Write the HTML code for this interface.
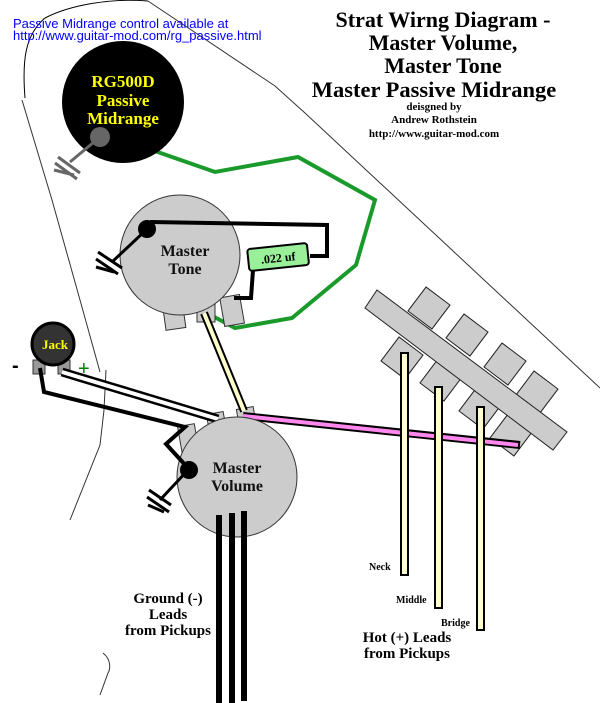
<!DOCTYPE html>
<html><head><meta charset="utf-8"><style>
html,body{margin:0;padding:0;background:#fff;}
svg{display:block;}
.s{font-family:"Liberation Serif",serif;font-weight:bold;}
</style></head><body>
<svg width="600" height="703" viewBox="0 0 600 703" xmlns="http://www.w3.org/2000/svg">
<path d="M148,1 L275,86 L305,113 L600,388" fill="none" stroke="#333" stroke-width="1"/>
<path d="M148,1 C110,-2 70,5 45,18 C25,35 22,60 25,98" fill="none" stroke="#000" stroke-width="1"/>
<path d="M22,100 L52,200 L80,300 L100,372" fill="none" stroke="#333" stroke-width="1"/>
<path d="M106,370 L104,410 L100,445 L70,520" fill="none" stroke="#333" stroke-width="1"/>
<path d="M103,653 C112,660 110,670 108,673 L100,695" fill="none" stroke="#333" stroke-width="1"/>
<text x="13" y="28" font-family="Liberation Sans,sans-serif" font-size="13" fill="#0000ff">Passive Midrange control available at</text>
<text x="13" y="40" font-family="Liberation Sans,sans-serif" font-size="13" fill="#0000ff">http://www.guitar-mod.com/rg_passive.html</text>
<g class="s" text-anchor="middle" fill="#000">
<text x="443" y="27" font-size="22">Strat Wirng Diagram -</text>
<text x="443" y="50" font-size="22">Master Volume,</text>
<text x="443" y="73" font-size="22">Master Tone</text>
<text x="434" y="97" font-size="22.5">Master Passive Midrange</text>
<text x="434" y="110" font-size="11">deisgned by</text>
<text x="434" y="123" font-size="11">Andrew Rothstein</text>
<text x="434" y="137" font-size="11">http://www.guitar-mod.com</text>
</g>
<polyline points="152,150 215,172 298,157 375,200 356,265 292,318 235,328 205,312" fill="none" stroke="#1a9a2a" stroke-width="4"/>
<circle cx="123" cy="102" r="61" fill="#000"/>
<g class="s" text-anchor="middle" fill="#ffff00" font-size="17">
<text x="123" y="87">RG500D</text>
<text x="123" y="106">Passive</text>
<text x="123" y="124">Midrange</text>
</g>
<line x1="100" y1="137" x2="70" y2="162" stroke="#666" stroke-width="3"/>
<circle cx="100" cy="137" r="10" fill="#666"/>
<g stroke="#666" stroke-width="3"><line x1="58" y1="157" x2="80" y2="173"/><line x1="55" y1="163" x2="77" y2="179"/><line x1="54" y1="170" x2="74" y2="175"/></g>
<g fill="#ccc" stroke="#333" stroke-width="1">
<rect x="164" y="300" width="20" height="29" transform="rotate(-8 174 315)"/>
<rect x="197" y="300" width="18" height="22"/>
<rect x="222" y="296" width="20" height="29" transform="rotate(-10 232 310)"/>
</g>
<circle cx="180" cy="255" r="60" fill="#ccc" stroke="#333" stroke-width="1"/>
<g class="s" text-anchor="middle" fill="#111" font-size="16"><text x="185" y="256">Master</text><text x="185" y="274">Tone</text></g>
<polyline points="150,222 327,225 327,256 310,256" fill="none" stroke="#000" stroke-width="4"/>
<polyline points="253,270 251,298 234,298" fill="none" stroke="#000" stroke-width="4"/>
<line x1="146" y1="230" x2="112" y2="262" stroke="#000" stroke-width="3"/>
<g stroke="#000" stroke-width="3"><line x1="98" y1="252" x2="122" y2="268"/><line x1="96" y1="259" x2="118" y2="274"/><line x1="96" y1="267" x2="114" y2="272"/></g>
<circle cx="147" cy="229" r="9" fill="#000"/>
<g transform="rotate(-6 278 256)"><rect x="248" y="246" width="60" height="22" rx="3" fill="#99f099" stroke="#000" stroke-width="2"/>
<text class="s" x="278" y="262" text-anchor="middle" font-size="12" fill="#000">.022 uf</text></g>
<g fill="#ccc" stroke="#222" stroke-width="1">
<g transform="rotate(37 429 308)"><rect x="414" y="293" width="30" height="30"/></g>
<g transform="rotate(37 467 335)"><rect x="452" y="320" width="30" height="30"/></g>
<g transform="rotate(37 505 364)"><rect x="490" y="349" width="30" height="30"/></g>
<g transform="rotate(37 537 392)"><rect x="522" y="377" width="30" height="30"/></g>
<g transform="rotate(37 402 358)"><rect x="387" y="343" width="30" height="30"/></g>
<g transform="rotate(37 441 380)"><rect x="426" y="365" width="30" height="30"/></g>
<g transform="rotate(37 480 408)"><rect x="465" y="393" width="30" height="30"/></g>
<g transform="rotate(37 511 435)"><rect x="496" y="420" width="30" height="30"/></g>
<polygon points="377,290 567,432 553,450 365,308"/>
</g>
<g fill="#999" stroke="#333" stroke-width="1"><rect x="33" y="360" width="12" height="14"/><rect x="58" y="360" width="12" height="14"/></g>
<circle cx="53" cy="344" r="21" fill="#333" stroke="#000" stroke-width="3"/>
<text class="s" x="55" y="349" text-anchor="middle" font-size="13" fill="#ffff00">Jack</text>
<text x="12" y="372" font-family="Liberation Sans,sans-serif" font-size="20" fill="#000" font-weight="bold">-</text>
<text x="78" y="375" font-family="Liberation Sans,sans-serif" font-size="20" fill="#008000">+</text>
<g fill="#ccc" stroke="#333" stroke-width="1">
<rect x="180" y="425" width="17" height="30" transform="rotate(-10 188 440)"/>
<rect x="208" y="413" width="17" height="20" transform="rotate(-10 216 423)"/>
<rect x="238" y="408" width="17" height="20" transform="rotate(-10 246 418)"/>
</g>
<line x1="62" y1="372" x2="218" y2="419" stroke="#000" stroke-width="9"/>
<line x1="62" y1="372" x2="218" y2="419" stroke="#fff" stroke-width="4"/>
<line x1="204" y1="313" x2="244" y2="411" stroke="#000" stroke-width="8"/>
<line x1="204" y1="313" x2="244" y2="411" stroke="#ffffcc" stroke-width="4"/>
<line x1="243" y1="416" x2="520" y2="445" stroke="#000" stroke-width="8"/>
<line x1="243" y1="416" x2="518" y2="445" stroke="#ff88ee" stroke-width="4"/>
<circle cx="237" cy="477" r="60" fill="#ccc" stroke="#333" stroke-width="1"/>
<g class="s" text-anchor="middle" fill="#111" font-size="16"><text x="237" y="473">Master</text><text x="237" y="491">Volume</text></g>
<polyline points="40,368 44,392 185,427 166,444 188,468" fill="none" stroke="#000" stroke-width="4"/>
<line x1="188" y1="470" x2="160" y2="500" stroke="#000" stroke-width="3"/>
<g stroke="#000" stroke-width="3"><line x1="149" y1="490" x2="171" y2="505"/><line x1="147" y1="497" x2="169" y2="512"/><line x1="148" y1="505" x2="164" y2="512"/></g>
<circle cx="189" cy="470" r="9" fill="#000"/>
<g fill="#000"><rect x="216" y="515" width="6" height="188"/><rect x="229" y="513" width="6" height="190"/><rect x="241" y="511" width="6" height="190"/></g>
<g fill="#ffffcc" stroke="#000" stroke-width="2">
<rect x="401" y="353" width="7" height="222"/>
<rect x="435" y="387" width="7" height="221"/>
<rect x="477" y="407" width="7" height="223"/>
</g>
<g class="s" font-size="10" fill="#000"><text x="369" y="570">Neck</text><text x="396" y="603">Middle</text><text x="441" y="626">Bridge</text></g>
<g class="s" font-size="15" fill="#000" text-anchor="middle">
<text x="407" y="642">Hot (+) Leads</text><text x="407" y="658">from Pickups</text>
<text x="168" y="603">Ground (-)</text><text x="168" y="619">Leads</text><text x="168" y="635">from Pickups</text>
</g>
</svg>
</body></html>
